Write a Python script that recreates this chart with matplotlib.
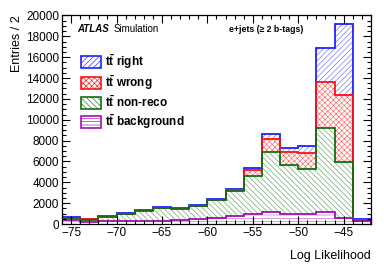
import matplotlib.pyplot as plt
from matplotlib.patches import Patch
from matplotlib.colors import to_rgba
from matplotlib.ticker import MultipleLocator

plt.rcParams['font.family'] = ['Liberation Sans', 'DejaVu Sans']
plt.rcParams['mathtext.fontset'] = 'custom'
plt.rcParams['mathtext.rm'] = 'Liberation Sans'
plt.rcParams['mathtext.bf'] = 'Liberation Sans:bold'
plt.rcParams['hatch.linewidth'] = 0.45

# bin edges of the log likelihood (width 2)
edges = list(range(-76, -40, 2))
# stacked components, entries per bin
background = [350, 150, 280, 280, 300, 280, 350, 450, 620, 800, 990, 1180, 920, 940, 1180, 600, 250]
nonreco = [250, 280, 400, 690, 980, 1250, 1110, 1270, 1660, 2330, 3610, 5690, 4700, 4330, 8000, 5370, 0]
wrong = [20, 20, 80, 20, 30, 30, 60, 40, 70, 130, 580, 1330, 1250, 1530, 4420, 6430, 130]
right = [20, 10, 20, 20, 20, 40, 20, 40, 50, 100, 160, 430, 430, 700, 3300, 6800, 140]

names = ['right', 'wrong', 'non-reco', 'background']
colors = ['#2020ff', '#ff1010', '#107010', '#a010b0']
hatches = ['//////', 'xxxxxx', '\\\\\\\\\\\\', '-----']

fig = plt.figure(figsize=(3.9, 2.67), dpi=100)
ax = fig.add_axes([0.159, 0.161, 0.792, 0.781])

layers = [background, nonreco, wrong, right]
lcol = colors[::-1]
lhat = hatches[::-1]
bottom = [0] * len(background)
tops = []
for vals, c, h in zip(layers, lcol, lhat):
    top = [b + v for b, v in zip(bottom, vals)]
    ax.stairs(top, edges, baseline=bottom, fill=True, facecolor='white',
              edgecolor=to_rgba(c, 0.65), hatch=h, linewidth=0)
    tops.append(top)
    bottom = top
# outlines, drawn from the top layer down
for top, c in list(zip(tops, lcol))[::-1]:
    ax.stairs(top, edges, baseline=0, fill=False, edgecolor=c, linewidth=1.3)

ax.set_xlim(-76, -42)
ax.set_ylim(0, 20000)
ax.xaxis.set_major_locator(MultipleLocator(5))
ax.xaxis.set_minor_locator(MultipleLocator(1))
ax.yaxis.set_major_locator(MultipleLocator(2000))
ax.yaxis.set_minor_locator(MultipleLocator(500))
ax.tick_params(which='both', direction='in', top=True, right=True, labelsize=8.5, pad=2)
ax.tick_params(which='major', length=6, width=0.8)
ax.tick_params(which='minor', length=3, width=0.8)
ax.set_xticks([-75, -70, -65, -60, -55, -50, -45])
ax.set_xticklabels(['\u221275', '\u221270', '\u221265', '\u221260', '\u221255', '\u221250', '\u221245'])
for s in ax.spines.values():
    s.set_linewidth(0.9)

ax.set_xlabel('Log Likelihood', fontsize=9, loc='right', labelpad=8)
ax.set_ylabel('Entries / 2', fontsize=9, loc='top', labelpad=2)

ax.text(0.05, 0.935, 'ATLAS', transform=ax.transAxes, fontsize=7, fontweight='bold',
        style='italic', va='center')
ax.text(0.168, 0.935, 'Simulation', transform=ax.transAxes, fontsize=7, va='center')
ax.text(0.782, 0.935, 'e+jets (\u2265 2 b-tags)', transform=ax.transAxes, fontsize=6.3,
        fontweight='bold', ha='right', va='center')

handles = [Patch(facecolor='white', edgecolor=c, hatch=h, linewidth=1.2)
           for c, h in zip(colors, hatches)]
labels = [r'$\mathbf{t\bar{t}}$ ' + n for n in names]
ax.legend(handles, labels, loc='upper left', bbox_to_anchor=(0.045, 0.845), frameon=False,
          prop={'size': 8.5, 'weight': 'bold'}, handlelength=1.7, handleheight=1.2,
          handletextpad=0.4, labelspacing=0.18, borderaxespad=0)

fig.savefig('out.png', dpi=100)
